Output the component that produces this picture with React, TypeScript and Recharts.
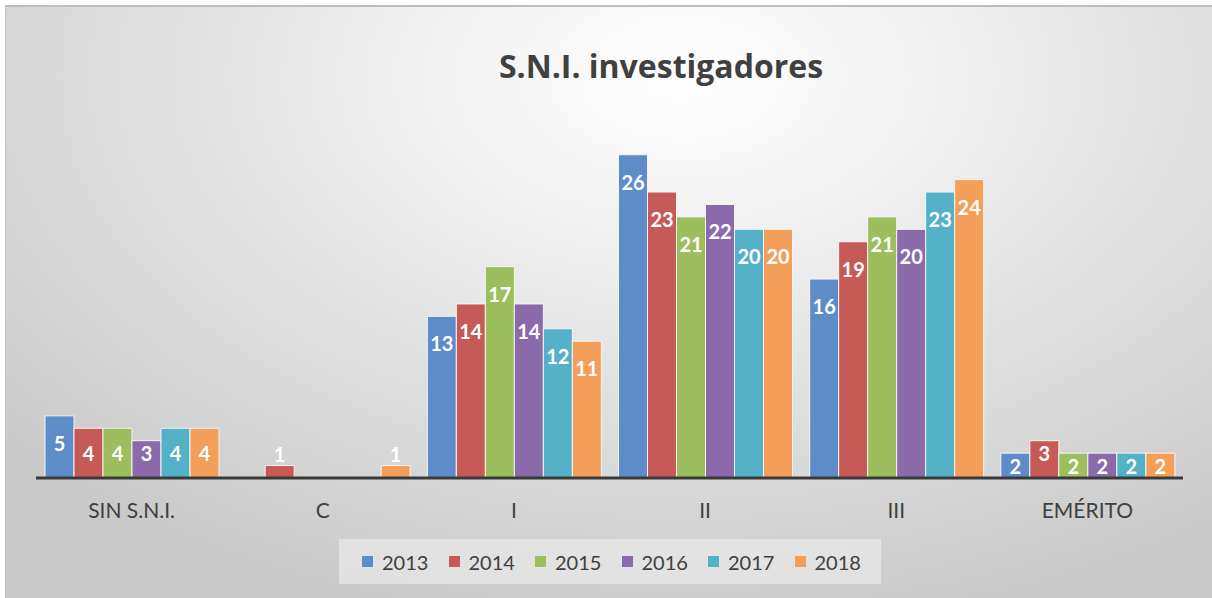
import React from 'react';
import { BarChart, Bar, XAxis, YAxis, LabelList } from 'recharts';

const categories = ['SIN S.N.I.', 'C', 'I', 'II', 'III', 'EMÉRITO'];
const years = ['2013', '2014', '2015', '2016', '2017', '2018'];
const v2013 = [5, null, 13, 26, 16, 2];
const v2014 = [4, 1, 14, 23, 19, 3];
const v2015 = [4, null, 17, 21, 21, 2];
const v2016 = [3, null, 14, 22, 20, 2];
const v2017 = [4, null, 12, 20, 23, 2];
const v2018 = [4, 1, 11, 20, 24, 2];
const colors = ['#5E8CC8', '#C65A56', '#9DBE5C', '#8A6AAA', '#55B1C8', '#F39F5A'];

const seriesValues = [v2013, v2014, v2015, v2016, v2017, v2018];
const data = categories.map((c, i) => {
  const row: any = { name: c };
  years.forEach((y, j) => {
    row[y] = seriesValues[j][i];
  });
  return row;
});

const renderLabel = (props: any) => {
  const { x, y, width, height, value } = props;
  if (value == null) return null;
  const h = Number(height);
  const cx = Number(x) + Number(width) / 2;
  let cy: number;
  if (h >= 50) cy = Number(y) + 27;
  else if (h >= 30) cy = Number(y) + h - 25;
  else if (h >= 20) cy = Number(y) + h / 2;
  else cy = Number(y) - 12;
  return (
    <text
      x={cx}
      y={cy}
      textAnchor="middle"
      dominantBaseline="central"
      fill="#ffffff"
      style={{ fontFamily: 'Lato', fontWeight: 700, fontSize: 20 }}
    >
      {value}
    </text>
  );
};

const renderTick = (props: any) => {
  const { x, payload } = props;
  return (
    <text
      x={x}
      y={509}
      textAnchor="middle"
      dominantBaseline="central"
      fill="#404040"
      style={{ fontFamily: 'Lato', fontSize: 21 }}
    >
      {payload.value}
    </text>
  );
};

export default function App() {
  return (
    <div style={{ position: 'absolute', left: 0, top: 0, width: 1212, height: 598, background: '#ffffff', overflow: 'hidden' }}>
      <div
        style={{
          position: 'absolute',
          left: 5,
          top: 5,
          width: 1207,
          height: 593,
          boxSizing: 'border-box',
          borderTop: '2px solid #bdbdbd',
          borderLeft: '1px solid #c2c2c2',
          background: 'radial-gradient(ellipse 75% 95% at 56% 12%, #ffffff 0%, #f0f0f0 30%, #dcdcdc 65%, #c9c9c9 100%)',
        }}
      />
      <div style={{ position: 'absolute', left: 0, top: 0 }}>
        <BarChart
          width={1212}
          height={598}
          data={data}
          margin={{ top: 105, right: 29, bottom: 90, left: 36 }}
          barCategoryGap={9}
          barGap={0}
        >
          <YAxis hide domain={[0, 30]} />
          <XAxis
            dataKey="name"
            height={30}
            axisLine={{ stroke: '#3a3a3a', strokeWidth: 3 }}
            tickLine={false}
            tick={renderTick}
            interval={0}
          />
          {years.map((y, j) => (
            <Bar key={y} dataKey={y} fill={colors[j]} stroke="#f4f4f4" strokeWidth={1} isAnimationActive={false}>
              <LabelList dataKey={y} content={renderLabel} />
            </Bar>
          ))}
          <text
            x={661}
            y={65}
            textAnchor="middle"
            dominantBaseline="central"
            fill="#404040"
            style={{ fontFamily: 'Open Sans', fontWeight: 700, fontSize: 32 }}
          >
            S.N.I. investigadores
          </text>
        </BarChart>
      </div>
      <div
        style={{
          position: 'absolute',
          left: 339,
          top: 539,
          width: 542,
          height: 45,
          background: 'rgba(238,238,238,0.6)',
          display: 'flex',
          alignItems: 'center',
          boxSizing: 'border-box',
          paddingLeft: 23,
          fontFamily: 'Lato',
          fontSize: 20,
          color: '#404040',
        }}
      >
        {years.map((y, j) => (
          <div key={y} style={{ display: 'flex', alignItems: 'center', width: 87 }}>
            <span style={{ display: 'inline-block', width: 11, height: 11, background: colors[j], marginRight: 9 }} />
            <span>{y}</span>
          </div>
        ))}
      </div>
    </div>
  );
}
